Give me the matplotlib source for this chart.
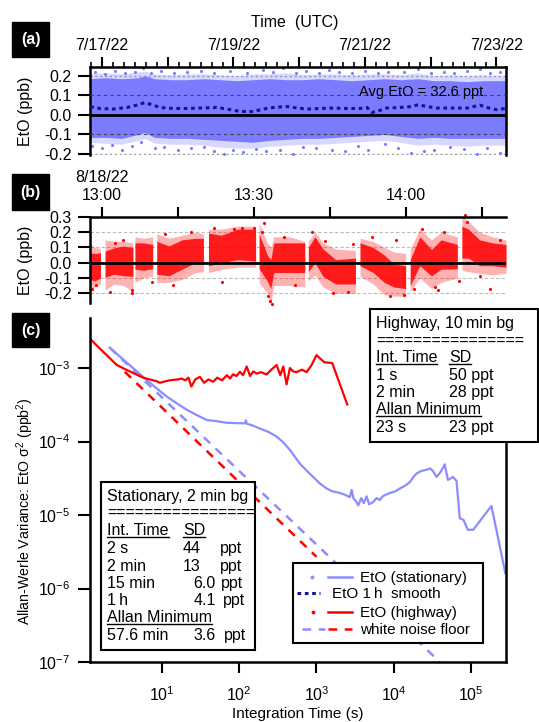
import numpy as np
import pandas as pd
import matplotlib
matplotlib.use("Agg")
import matplotlib.pyplot as plt
import matplotlib.dates as mdates
from matplotlib.lines import Line2D
from matplotlib.patches import Rectangle
from matplotlib.ticker import FuncFormatter, FixedLocator, NullLocator, NullFormatter
from matplotlib.transforms import IdentityTransform

plt.rcParams['font.family'] = ['Liberation Sans', 'DejaVu Sans']
plt.rcParams['mathtext.fontset'] = 'custom'
plt.rcParams['mathtext.rm'] = 'Liberation Sans'
plt.rcParams['mathtext.it'] = 'Liberation Sans:italic'
plt.rcParams['axes.unicode_minus'] = False

# ---------------- data ----------------
# (a) stationary, days after 7/17/22 00:00 UTC: dense core and sparse fringe of the 1 s points
env_days = [-0.18, 0.05, 0.3, 0.55, 0.65, 0.8, 1.05, 1.3, 1.55, 1.8, 2.05, 2.3, 2.55, 2.8,
            3.05, 3.3, 3.55, 3.8, 4.05, 4.3, 4.55, 4.8, 5.05, 5.3, 5.55, 5.8, 6.15]
env_hi = [0.185, 0.19, 0.185, 0.19, 0.2, 0.185, 0.18, 0.18, 0.185, 0.18, 0.175, 0.18, 0.185, 0.18,
          0.18, 0.185, 0.18, 0.175, 0.18, 0.185, 0.18, 0.185, 0.175, 0.175, 0.17, 0.175, 0.175]
env_lo = [-0.115, -0.115, -0.12, -0.1, -0.09, -0.115, -0.12, -0.12, -0.125, -0.13, -0.135, -0.14, -0.13, -0.125,
          -0.12, -0.12, -0.115, -0.11, -0.105, -0.1, -0.11, -0.12, -0.115, -0.12, -0.12, -0.12, -0.12]
env_out_hi = [0.21, 0.215, 0.21, 0.22, 0.225, 0.21, 0.205, 0.21, 0.21, 0.205, 0.2, 0.21, 0.21, 0.215,
              0.205, 0.21, 0.21, 0.205, 0.21, 0.21, 0.205, 0.215, 0.2, 0.205, 0.2, 0.205, 0.2]
env_out_lo = [-0.14, -0.145, -0.15, -0.13, -0.12, -0.145, -0.15, -0.15, -0.155, -0.165, -0.17, -0.17, -0.16, -0.155,
              -0.15, -0.15, -0.145, -0.14, -0.135, -0.13, -0.14, -0.155, -0.15, -0.155, -0.16, -0.155, -0.155]
out_days = [-0.1, 0.05, 0.2, 0.35, 0.5, 0.62, 0.75, 0.9, 1.1, 1.3, 1.5, 1.7, 1.95, 2.2, 2.45, 2.6, 2.75,
            2.95, 3.1, 3.3, 3.45, 3.6, 3.8, 4.0, 4.2, 4.35, 4.6, 4.8, 5.0, 5.2, 5.35, 5.55, 5.75, 5.9, 6.05,
            -0.15, 0.0, 0.15, 0.3, 0.45, 0.6, 0.8, 0.95, 1.15, 1.35, 1.55, 1.7, 1.85, 2.0, 2.15, 2.35, 2.5,
            2.7, 2.9, 3.05, 3.25, 3.5, 3.7, 3.9, 4.05, 4.3, 4.5, 4.7, 4.9, 5.05, 5.3, 5.5, 5.7, 5.85, 6.05]
out_val = [0.22, 0.21, 0.225, 0.215, 0.22, 0.24, 0.215, 0.225, 0.215, 0.22, 0.225, 0.215, 0.225, 0.215, 0.23,
           0.22, 0.24, 0.215, 0.225, 0.215, 0.23, 0.22, 0.215, 0.225, 0.215, 0.22, 0.22, 0.235, 0.215, 0.22,
           0.215, 0.225, 0.235, 0.215, 0.22,
           -0.16, -0.17, -0.155, -0.18, -0.16, -0.14, -0.17, -0.165, -0.18, -0.17, -0.165, -0.185, -0.2, -0.18,
           -0.19, -0.175, -0.185, -0.18, -0.2, -0.165, -0.17, -0.18, -0.185, -0.16, -0.18, -0.15, -0.17, -0.195,
           -0.185, -0.18, -0.165, -0.175, -0.2, -0.17, -0.195]
sm_days = [-0.18, -0.03, 0.17, 0.38, 0.53, 0.65, 0.78, 0.88, 1.09, 1.29, 1.49, 1.74, 1.90, 2.10, 2.30,
           2.45, 2.61, 2.81, 2.91, 3.11, 3.32, 3.52, 3.72, 3.92, 4.03, 4.10, 4.18, 4.33, 4.53, 4.68,
           4.81, 4.94, 5.09, 5.29, 5.55, 5.75, 5.85, 6.00, 6.14]
sm_val = [0.042, 0.033, 0.030, 0.038, 0.050, 0.063, 0.050, 0.038, 0.033, 0.033, 0.035, 0.038, 0.030, 0.018, 0.017,
          0.030, 0.038, 0.043, 0.038, 0.030, 0.033, 0.035, 0.033, 0.033, 0.038, 0.013, 0.018, 0.035, 0.038, 0.042,
          0.052, 0.043, 0.035, 0.035, 0.035, 0.050, 0.038, 0.027, 0.033]
a_ticks = [-0.2, -0.1, 0.0, 0.1, 0.2]
a_ticklabels = ["-0.2", "-0.1", "0.0", "0.1", "0.2"]

# (b) highway, minutes after 8/18/22 13:00 UTC; one list per 10-min measurement block
seg_t = [[-2.4, -1.4, -0.3],
         [0.6, 2.3, 4.2, 6.1],
         [6.5, 8.2, 10.0],
         [10.8, 13.2, 15.8, 18.4, 20.0],
         [21.0, 23.5, 26.8, 30.3],
         [31.0, 32.6, 33.3, 33.9, 37.0, 40.0],
         [40.7, 42.0, 43.6, 46.1, 50.0],
         [50.9, 53.5, 55.7, 57.6, 59.9],
         [60.8, 62.7, 65.0, 66.9, 70.1],
         [71.0, 72.3, 74.5, 77.0, 79.7]]
seg_hi = [[0.065, 0.06, 0.065],
          [0.076, 0.097, 0.108, 0.10],
          [0.13, 0.13, 0.12],
          [0.14, 0.11, 0.15, 0.16, 0.16],
          [0.195, 0.18, 0.22, 0.22],
          [0.19, 0.05, 0.02, 0.13, 0.13, 0.13],
          [0.10, 0.17, 0.09, 0.02, 0.03],
          [0.13, 0.10, 0.05, -0.01, -0.02],
          [0.02, 0.17, 0.087, 0.15, 0.12],
          [0.24, 0.22, 0.15, 0.13, 0.12]]
seg_lo = [[-0.11, -0.12, -0.10],
          [-0.097, -0.076, -0.086, -0.09],
          [-0.043, -0.05, -0.04],
          [-0.076, -0.086, -0.043, 0.0, -0.01],
          [-0.02, 0.0, 0.02, 0.01],
          [-0.04, -0.12, -0.17, -0.065, -0.065, -0.065],
          [-0.06, 0.0, -0.09, -0.14, -0.14],
          [-0.02, -0.065, -0.13, -0.16, -0.17],
          [-0.15, -0.02, -0.087, -0.043, -0.04],
          [0.03, 0.03, -0.02, -0.02, -0.03]]
seg_out_hi = [[0.13, 0.10, 0.09],
              [0.15, 0.14, 0.14, 0.13],
              [0.17, 0.16, 0.17],
              [0.19, 0.16, 0.18, 0.20, 0.19],
              [0.22, 0.22, 0.24, 0.24],
              [0.26, 0.13, 0.10, 0.17, 0.17, 0.14],
              [0.14, 0.20, 0.13, 0.09, 0.08],
              [0.16, 0.14, 0.10, 0.07, 0.06],
              [0.09, 0.22, 0.15, 0.20, 0.17],
              [0.31, 0.27, 0.20, 0.17, 0.15]]
seg_out_lo = [[-0.17, -0.16, -0.14],
              [-0.18, -0.14, -0.15, -0.19],
              [-0.13, -0.10, -0.09],
              [-0.13, -0.13, -0.11, -0.065, -0.06],
              [-0.065, -0.045, -0.03, -0.03],
              [-0.13, -0.20, -0.27, -0.15, -0.15, -0.16],
              [-0.12, -0.08, -0.16, -0.20, -0.20],
              [-0.09, -0.14, -0.21, -0.22, -0.22],
              [-0.19, -0.10, -0.17, -0.13, -0.10],
              [-0.05, -0.06, -0.07, -0.08, -0.07]]
b_out_t = [-2.0, -1.2, 1.6, 2.5, 4.2, 5.9, 6.0, 9.8, 12.5, 14.0, 17.5, 22.0, 23.6, 26.0, 27.6,
           29.9, 31.5, 32.0, 32.8, 33.2, 33.5, 36.0, 38.0, 41.5, 44.0, 45.6, 48.6, 49.5, 53.2, 56.8,
           58.0, 59.5, 61.5, 63.1, 65.7, 66.3, 67.4, 70.5, 71.6, 72.0, 74.6, 76.6, 78.5]
b_out_v = [-0.17, -0.15, -0.19, 0.13, 0.15, -0.18, -0.2, -0.13, 0.19, -0.15, 0.2, 0.23, -0.13, 0.22, 0.23,
           0.23, 0.2, 0.26, -0.22, -0.25, -0.27, 0.17, -0.15, 0.2, 0.14, -0.2, -0.19, 0.12, 0.17, -0.22,
           0.15, -0.21, -0.17, 0.22, -0.16, -0.18, 0.2, -0.12, 0.31, 0.27, -0.09, -0.17, 0.15]
b_ticks = [-0.2, -0.1, 0.0, 0.1, 0.2, 0.3]
b_ticklabels = ["-0.2", "-0.1", "0.0", "0.1", "0.2", "0.3"]

# (c) Allan-Werle variance
hw_tau = [1.17, 1.5, 2.0, 2.6, 3.3, 4.2, 5.7, 7.0, 8.6, 9.4, 11, 12.5, 14, 16, 18, 20, 22, 24, 27, 31,
          35, 40, 46, 52, 60, 69, 76, 83, 92, 102, 112, 125, 138, 152, 170, 190, 226, 260, 305, 340,
          372, 410, 453, 500, 553, 650, 745, 865, 1000, 1260, 1600, 2500]
hw_var = [2.5, 1.93, 1.44, 1.1, 0.97, 0.86, 0.74, 0.70, 0.66, 0.63, 0.66, 0.68, 0.69, 0.70, 0.72, 0.68,
          0.74, 0.56, 0.70, 0.76, 0.63, 0.70, 0.65, 0.74, 0.68, 0.80, 0.72, 0.82, 0.78, 0.89, 0.80, 1.05,
          0.78, 0.90, 0.84, 0.88, 0.82, 0.95, 1.10, 0.80, 1.05, 0.60, 1.00, 0.90, 0.88, 0.95, 0.88, 1.10,
          1.50, 1.20, 1.17, 0.32]  # x1e-3 ppb^2
st_tau = [2.1, 3.0, 4.0, 5.7, 8.0, 11.5, 15, 21, 28, 38, 50, 69, 90, 119, 122, 125, 150, 186, 240, 305,
          370, 453, 610, 750, 906, 1100, 1350, 1600, 2000, 2300, 2700, 2850, 3000, 3300, 3470, 3800, 4100,
          4450, 4800, 5400, 6000, 6600, 7200, 8000, 9000, 10500, 12000, 14000, 16200, 18000, 19900, 23000,
          26000, 29600, 32000, 35800, 40000, 43000, 45700, 48000, 50400, 58500, 65000, 71600, 80000, 91000,
          107000, 184000, 279000]
st_var = [190, 137, 105, 76, 56, 41, 34, 27, 23, 19.6, 19, 18, 17.8, 17.7, 19.5, 17.5, 16.5, 15, 13.5, 11.7,
          9.8, 7.7, 5.0, 4.0, 3.3, 2.7, 2.3, 2.1, 2.0, 1.9, 1.75, 2.2, 1.7, 1.5, 1.35, 1.7, 1.45,
          1.8, 1.4, 1.5, 1.7, 1.6, 1.8, 1.9, 2.0, 2.1, 2.3, 2.5, 2.8, 3.3, 3.7, 4.0,
          4.1, 4.3, 4.0, 3.3, 3.8, 4.3, 4.9, 3.8, 3.0, 3.3, 2.9, 0.9, 0.86, 0.63,
          0.63, 1.33, 0.16]  # x1e-5 ppb^2
wn_st_tau = [2.1, 39500]
wn_st_var = [1.9e-3, 1.0e-7]
wn_hw_tau = [3.3, 1000]
wn_hw_var = [8.9e-4, 2.7e-6]

# ---------------- style ----------------
BLUE_A = "#7b7bff"
NAVY = "#12129a"
BLUE_C = "#8c8cff"
RED = "#ff0000"
FS = 11.5
LW = 1.8

W, H = 539, 722
fig = plt.figure(figsize=(W / 100, H / 100), dpi=100)


def fx(px):
    return px / W


def fy(py):
    return 1 - py / H


def axes_px(l, t, r, b):
    return fig.add_axes([fx(l), fy(b), (r - l) / W, (b - t) / H])


def panel_label(txt, l, t, r, b):
    fig.add_artist(Rectangle((fx(l), fy(b)), (r - l) / W, (b - t) / H,
                             transform=fig.transFigure, color="k"))
    fig.text(fx((l + r) / 2), fy((t + b) / 2), txt, color="w", weight="bold",
             ha="center", va="center", fontsize=FS)


def fig_line(xs, ys, **kw):
    fig.add_artist(Line2D([fx(x) for x in xs], [fy(y) for y in ys],
                          transform=fig.transFigure, **kw))


def fig_box(l, t, r, b):
    fig.add_artist(Rectangle((fx(l), fy(b)), (r - l) / W, (b - t) / H,
                             transform=fig.transFigure, fc="w", ec="k", lw=1.5, zorder=5))


def fig_row(x, y, s, size=FS):
    # y is the visual middle of capital letters in pixels from the top
    return fig.text(fx(x), fy(y + 5.2 * size / FS), s, ha="left", va="baseline", fontsize=size, zorder=6)


# ---------------- (a) ----------------
t0 = pd.Timestamp("2022-07-17")


def days_to_time(d):
    return (t0 + pd.to_timedelta(np.asarray(d, dtype=float), unit="D")).to_numpy()


ax = axes_px(90, 67, 506, 155)
ta = days_to_time(env_days)
ax.fill_between(ta, env_out_lo, env_out_hi, color=BLUE_A, alpha=0.3, lw=0, zorder=1)
ax.fill_between(ta, env_lo, env_hi, color=BLUE_A, lw=0, zorder=1)
ax.scatter(days_to_time(out_days), out_val, s=5, color=BLUE_A, lw=0, zorder=1)
for v in (0.1, -0.1):
    ax.axhline(v, color="#444444", ls=(0, (3, 3)), lw=0.8, zorder=3)
for v in (0.2, -0.2):
    ax.axhline(v, color="#999999", ls=(0, (1.5, 2)), lw=1, zorder=0.5)
ax.axhline(0, color="k", lw=2, zorder=4)
ax.plot(days_to_time(sm_days), sm_val, color=NAVY, ls=(0, (1.2, 1.2)), lw=2.2, zorder=5)
ax.text(0.945, 0.715, "Avg EtO = 32.6 ppt", transform=ax.transAxes, ha="right", va="center",
        fontsize=10.5, zorder=6)
ax.set_xlim(t0 - pd.Timedelta(hours=4.38), t0 + pd.Timedelta(days=6.145))
ax.set_ylim(-0.205, 0.245)
ax.set_yticks(a_ticks)
ax.set_yticklabels(a_ticklabels)
ax.xaxis.tick_top()
ax.xaxis.set_major_locator(mdates.DayLocator())
ax.xaxis.set_minor_locator(mdates.HourLocator(byhour=range(0, 24, 4)))
ax.xaxis.set_minor_formatter(NullFormatter())


def day_label(x, pos):
    d = mdates.num2date(round(x))
    return f"{d.month}/{d.day}/{d.year % 100}" if d.day % 2 == 1 else ""


ax.xaxis.set_major_formatter(FuncFormatter(day_label))
ax.spines["bottom"].set_visible(False)
for s in ("left", "top", "right"):
    ax.spines[s].set_linewidth(LW)
ax.tick_params(axis="x", which="major", length=7, width=1.5, pad=3, labelsize=FS, top=True, bottom=False)
ax.tick_params(axis="x", which="minor", length=3.5, width=1.2, top=True, bottom=False)
ax.tick_params(axis="y", length=9, width=1.5, pad=4, labelsize=FS, right=False)
ax.set_ylabel("EtO (ppb)", fontsize=FS)
ax.yaxis.set_label_coords(-0.137, 0.5)

fig.text(fx(295), fy(22), "Time  (UTC)", ha="center", va="center", fontsize=FS)
panel_label("(a)", 12, 22, 49, 57)

# ---------------- (b) ----------------
tb0 = pd.Timestamp("2022-08-18 13:00")


def min_to_time(m):
    return (tb0 + pd.to_timedelta(np.asarray(m, dtype=float), unit="min")).to_numpy()


ax = axes_px(90, 217, 506, 303)
for v in (0.2, 0.1, -0.1, -0.2):
    ax.axhline(v, color="#bbbbbb", ls=(0, (3, 2)), lw=0.8, zorder=0.5)
for tt, hi, lo, ohi, olo in zip(seg_t, seg_hi, seg_lo, seg_out_hi, seg_out_lo):
    tm = min_to_time(tt)
    ax.fill_between(tm, olo, ohi, color=RED, alpha=0.3, lw=0, zorder=1)
    ax.fill_between(tm, lo, hi, color=RED, alpha=0.85, lw=0, zorder=1)
ax.scatter(min_to_time(b_out_t), b_out_v, s=5, color=RED, lw=0, zorder=2, clip_on=False)
ax.axhline(0, color="k", lw=2, zorder=4)
ax.set_xlim(tb0 - pd.Timedelta(minutes=2.37), tb0 + pd.Timedelta(minutes=79.7))
ax.set_ylim(-0.265, 0.3)
ax.set_yticks(b_ticks)
ax.set_yticklabels(b_ticklabels)
ax.xaxis.tick_top()
ax.xaxis.set_major_locator(mdates.MinuteLocator(byminute=[0, 15, 30, 45]))


def hm_label(x, pos):
    d = pd.Timestamp(mdates.num2date(x)).round("min")
    return f"{d.hour}:{d.minute:02d}" if d.minute % 30 == 0 else ""


ax.xaxis.set_major_formatter(FuncFormatter(hm_label))
ax.spines["bottom"].set_visible(False)
ax.spines["right"].set_visible(False)
ax.spines["left"].set_linewidth(LW)
ax.spines["top"].set_linewidth(LW)
ax.spines["top"].set_linestyle((0, (2.5, 1)))
ax.tick_params(axis="x", length=7, width=1.5, pad=3, labelsize=FS, top=True, bottom=False)
ax.tick_params(axis="y", length=9, width=1.5, pad=4, labelsize=FS, right=False)
ax.set_ylabel("EtO (ppb)", fontsize=FS)
ax.yaxis.set_label_coords(-0.137, 0.5)
fig.text(fx(102), fy(178), "8/18/22", ha="center", va="center", fontsize=FS)
panel_label("(b)", 12, 174, 49, 210)

# ---------------- (c) ----------------
ax = axes_px(90, 318, 506, 662)
ax.set_xscale("log")
ax.set_yscale("log")
ax.plot(wn_st_tau, wn_st_var, color=BLUE_C, ls=(0, (3.5, 3)), lw=1.8)
ax.plot(wn_hw_tau, wn_hw_var, color=RED, ls=(0, (3.5, 3)), lw=1.8)
ax.plot(st_tau, np.array(st_var) * 1e-5, color=BLUE_C, lw=1.6)
ax.plot(hw_tau, np.array(hw_var) * 1e-3, color=RED, lw=1.6)
ax.set_xlim(1.17, 2.84e5)
ax.set_ylim(1e-7, 4.8e-3)
ax.xaxis.set_major_locator(FixedLocator([1e1, 1e2, 1e3, 1e4, 1e5]))
ax.yaxis.set_major_locator(FixedLocator([1e-7, 1e-6, 1e-5, 1e-4, 1e-3]))
ax.xaxis.set_minor_locator(NullLocator())
ax.yaxis.set_minor_locator(NullLocator())
pow_fmt = FuncFormatter(lambda v, pos: "10$^{%d}$" % int(round(np.log10(v))))
ax.xaxis.set_major_formatter(pow_fmt)
ax.yaxis.set_major_formatter(pow_fmt)
ax.spines["top"].set_visible(False)
for s in ("left", "bottom", "right"):
    ax.spines[s].set_linewidth(LW)
ax.tick_params(axis="x", length=8, width=1.5, pad=9, labelsize=FS, top=False)
ax.tick_params(axis="y", length=9, width=1.5, pad=5, labelsize=FS, right=False)
ax.set_xlabel("Integration Time (s)", fontsize=11)
ax.xaxis.set_label_coords(0.5, -0.131)
ax.set_ylabel("Allan-Werle Variance: EtO σ$^2$ (ppb$^2$)", fontsize=10.2)
ax.yaxis.set_label_coords(-0.13, 0.439)
panel_label("(c)", 12, 313, 49, 347)

# text boxes
underline = []
fig_box(370, 309, 538, 442)
hw_rows_y = [323, 341, 357, 375, 392, 409, 427]
hw_col1 = ["Highway, 10\u2009min bg", "================", "Int. Time", "1 s", "2 min", "Allan Minimum", "23 s"]
hw_col2 = [None, None, "SD", "50 ppt", "28 ppt", None, "23 ppt"]
for y, c1, c2 in zip(hw_rows_y, hw_col1, hw_col2):
    t = fig_row(376, y, c1)
    if c1 in ("Int. Time", "Allan Minimum"):
        underline.append(t)
    if c2:
        t = fig_row(449, y, c2)
        if c2 == "SD":
            underline.append(t)

fig_box(100.7, 482.3, 255, 650)
st_rows_y = [496, 513, 530, 548, 566, 583, 600, 617, 635]
st_col1 = ["Stationary, 2 min bg", "================", "Int. Time", "2 s", "2 min", "15 min", "1\u2009h",
           "Allan Minimum", "57.6 min"]
st_col2 = [None, None, "SD", "44", "13", "6.0", "4.1", None, "3.6"]
st_col2_x = [0, 0, 183, 183, 183, 193, 194, 0, 193]
st_col3_x = [0, 0, 0, 220, 220, 221, 223, 0, 224]
for y, c1, c2, x2, x3 in zip(st_rows_y, st_col1, st_col2, st_col2_x, st_col3_x):
    t = fig_row(107, y, c1)
    if c1 in ("Int. Time", "Allan Minimum"):
        underline.append(t)
    if c2:
        t = fig_row(x2, y, c2)
        if c2 == "SD":
            underline.append(t)
    if x3:
        fig_row(x3, y, "ppt")

# legend
fig_box(293, 563, 483, 643)
LFS = 11
fig_line([312], [577], marker="o", ms=1.8, color=BLUE_C, ls="none", zorder=6)
fig_line([328, 352], [577, 577], color=BLUE_C, lw=1.8, zorder=6)
fig_row(360, 577, "EtO (stationary)", LFS)
fig_line([297, 320], [593, 593], color=NAVY, lw=2.2, ls=(0, (1.2, 1.2)), zorder=6)
fig_row(332, 593, "EtO 1\u2009h  smooth", LFS)
fig_line([313], [612], marker="o", ms=1.8, color=RED, ls="none", zorder=6)
fig_line([328, 352], [612, 612], color=RED, lw=1.8, zorder=6)
fig_row(360, 612, "EtO (highway)", LFS)
fig_line([302, 325], [629, 629], color=BLUE_C, lw=1.8, ls=(0, (3.5, 3)), zorder=6)
fig_line([328, 352], [629, 629], color=RED, lw=1.8, ls=(0, (3.5, 3)), zorder=6)
fig_row(360, 629, "white noise floor", LFS)

# underlines measured from rendered text
fig.canvas.draw()
r = fig.canvas.get_renderer()
for t in underline:
    bb = t.get_window_extent(r)
    fig.add_artist(Line2D([bb.x0, bb.x1], [bb.y0 + 1.5, bb.y0 + 1.5], transform=IdentityTransform(),
                          color="k", lw=1.0, zorder=7))

fig.savefig("out.png", dpi=100)
